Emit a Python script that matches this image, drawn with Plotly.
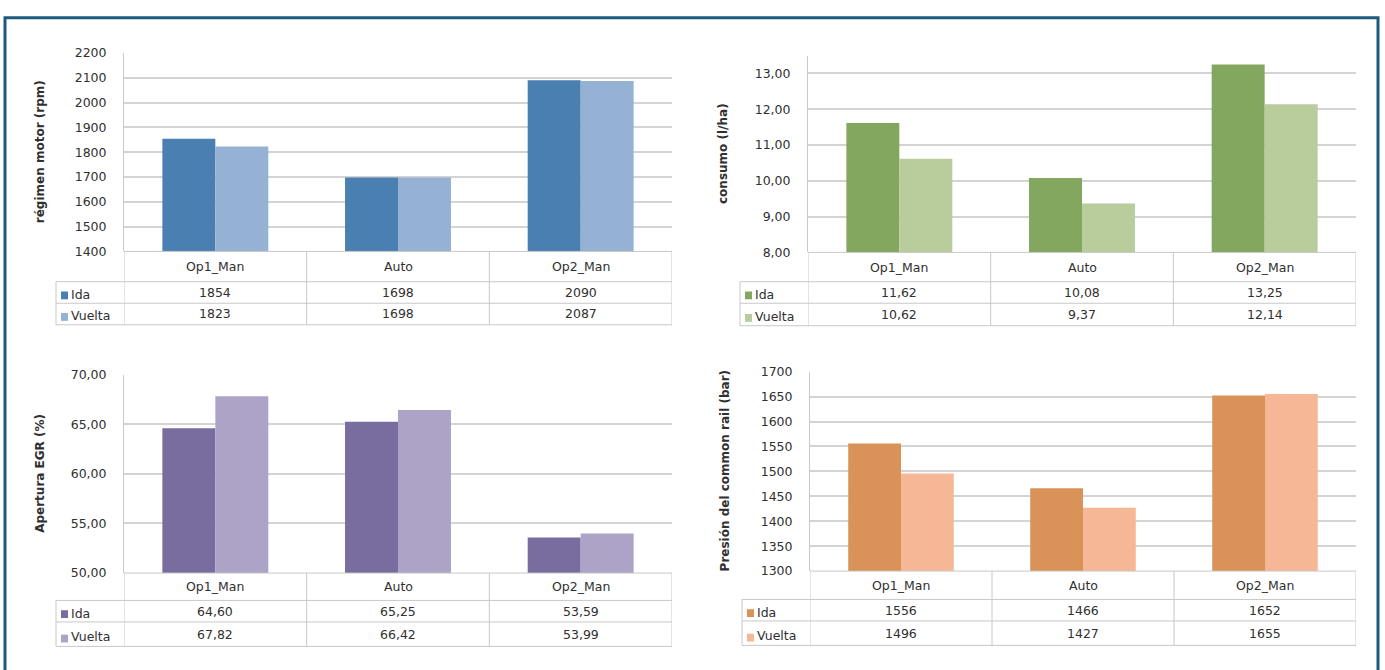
import plotly.graph_objects as go

W, H = 1385, 670

# ---------------- data ----------------
categories = ["Op1_Man", "Auto", "Op2_Man"]
series_names = ["Ida", "Vuelta"]

regimen_ida = [1854, 1698, 2090]
regimen_vuelta = [1823, 1698, 2087]

consumo_ida = [11.62, 10.08, 13.25]
consumo_vuelta = [10.62, 9.37, 12.14]

egr_ida = [64.60, 65.25, 53.59]
egr_vuelta = [67.82, 66.42, 53.99]

presion_ida = [1556, 1466, 1652]
presion_vuelta = [1496, 1427, 1655]

y_titles = ["régimen motor (rpm)", "consumo (l/ha)",
            "Apertura EGR (%)", "Presión del common rail (bar)"]

# ---------------- styling / layout ----------------
panels = [
    dict(ida=regimen_ida, vue=regimen_vuelta, title=y_titles[0],
         colors=("#4a7fb2", "#95b1d3"), rng=(1400, 2200), dtick=100, fmt="d", dec=0,
         l=124, r=672, t=46, b=249, rows=(280, 302, 324), tl=56, tx=40),
    dict(ida=consumo_ida, vue=consumo_vuelta, title=y_titles[1],
         colors=("#84a760", "#b8cc9c"), rng=(8, 13.5), dtick=1, fmt=".2f", dec=2,
         l=808, r=1356, t=48.7, b=250, rows=(280, 302, 325), tl=740, tx=723),
    dict(ida=egr_ida, vue=egr_vuelta, title=y_titles[2],
         colors=("#796c9f", "#aca3c6"), rng=(50, 70), dtick=5, fmt=".2f", dec=2,
         l=124, r=672, t=375, b=578, rows=(606, 628, 653), tl=56, tx=40),
    dict(ida=presion_ida, vue=presion_vuelta, title=y_titles[3],
         colors=("#d99258", "#f6b797"), rng=(1300, 1700), dtick=50, fmt="d", dec=0,
         l=810, r=1356, t=372, b=576, rows=(605, 627, 652), tl=742, tx=725),
]

FONT = "DejaVu Sans"
TXT = "#303030"
GRID = "#d4d4d4"
TAB = "#c8c8c8"


def PX(x):
    return x / W


def PY(y):
    return 1 - y / H


def fmt_val(v, dec):
    if dec == 0:
        return str(int(round(v)))
    return f"{v:.{dec}f}".replace(".", ",")


fig = go.Figure()
shapes = []
annotations = []
layout_axes = {}

for i, p in enumerate(panels, start=1):
    xa, ya = f"x{i}", f"y{i}"
    for name, vals, col in zip(series_names, (p["ida"], p["vue"]), p["colors"]):
        fig.add_trace(go.Bar(
            x=categories, y=vals, name=name, xaxis=xa, yaxis=ya,
            marker=dict(color=col, line=dict(width=0)),
            showlegend=False, hoverinfo="skip",
        ))

    layout_axes[f"xaxis{i}"] = dict(
        domain=[PX(p["l"]), PX(p["r"])], anchor=ya, range=[-0.5, 2.5],
        showticklabels=False, showgrid=False, zeroline=False, showline=False,
        fixedrange=True, categoryorder="array", categoryarray=categories,
    )
    layout_axes[f"yaxis{i}"] = dict(
        domain=[PY(p["b"]), PY(p["t"])], anchor=xa, range=list(p["rng"]),
        tick0=p["rng"][0], dtick=p["dtick"], tickformat=p["fmt"],
        showgrid=True, gridcolor=GRID, gridwidth=1.5, zeroline=False,
        showline=True, linecolor=TAB, linewidth=1, ticks="",
        ticklabelstandoff=14,
        tickfont=dict(family=FONT, size=12.5, color=TXT), fixedrange=True,
    )

    l, r, b = p["l"], p["r"], p["b"]
    cb, ib, vb = p["rows"]
    tl = p["tl"]

    # table horizontal lines
    shapes.append(dict(type="line", xref="paper", yref="paper",
                       x0=PX(l), x1=PX(r), y0=PY(b), y1=PY(b),
                       line=dict(color=TAB, width=1)))
    for yy in (cb, ib, vb):
        shapes.append(dict(type="line", xref="paper", yref="paper",
                           x0=PX(tl), x1=PX(r), y0=PY(yy), y1=PY(yy),
                           line=dict(color=TAB, width=1)))
    # table vertical lines (category boundaries through the x scale)
    for k in range(len(categories) + 1):
        shapes.append(dict(type="line", xref=xa, yref="paper",
                           x0=k - 0.5, x1=k - 0.5, y0=PY(b), y1=PY(vb),
                           line=dict(color=TAB, width=1)))
    shapes.append(dict(type="line", xref="paper", yref="paper",
                       x0=PX(tl), x1=PX(tl), y0=PY(cb), y1=PY(vb),
                       line=dict(color=TAB, width=1)))

    # category labels
    for c in categories:
        annotations.append(dict(x=c, xref=xa, y=PY((b + cb) / 2), yref="paper",
                                text=c, showarrow=False, xanchor="center", yanchor="middle",
                                font=dict(family=FONT, size=12.5, color=TXT)))
    # values + legend keys
    for (y0, y1), name, vals, col in zip(((cb, ib), (ib, vb)), series_names,
                                         (p["ida"], p["vue"]), p["colors"]):
        yc = (y0 + y1) / 2
        for c, v in zip(categories, vals):
            annotations.append(dict(x=c, xref=xa, y=PY(yc), yref="paper",
                                    text=fmt_val(v, p["dec"]), showarrow=False,
                                    xanchor="center", yanchor="middle",
                                    font=dict(family=FONT, size=12.5, color=TXT)))
        shapes.append(dict(type="rect", xref="paper", yref="paper",
                           x0=PX(tl + 5), x1=PX(tl + 12), y0=PY(y1 - 4), y1=PY(y1 - 12),
                           fillcolor=col, line=dict(width=0)))
        annotations.append(dict(x=PX(tl + 13), xref="paper", y=PY(yc + 2), yref="paper",
                                text=name, showarrow=False, xanchor="left", yanchor="middle",
                                font=dict(family=FONT, size=12.5, color=TXT)))

    # y-axis title
    annotations.append(dict(x=PX(p["tx"]), xref="paper", y=PY((p["t"] + p["b"]) / 2),
                            yref="paper", text=f"<b>{p['title']}</b>", textangle=-90,
                            showarrow=False, xanchor="center", yanchor="middle",
                            font=dict(family=FONT, size=12, color=TXT)))

# outer frame
shapes.append(dict(type="rect", xref="paper", yref="paper",
                   x0=PX(5), x1=PX(1378), y0=PY(700), y1=PY(10),
                   line=dict(color="#1c5b7e", width=3), fillcolor="rgba(0,0,0,0)"))

fig.update_layout(
    width=W, height=H, margin=dict(l=0, r=0, t=0, b=0),
    paper_bgcolor="white", plot_bgcolor="white",
    barmode="group", bargap=0.42, bargroupgap=0,
    separators=",.",
    shapes=shapes, annotations=annotations,
    **layout_axes,
)

fig.write_html("out.html")
